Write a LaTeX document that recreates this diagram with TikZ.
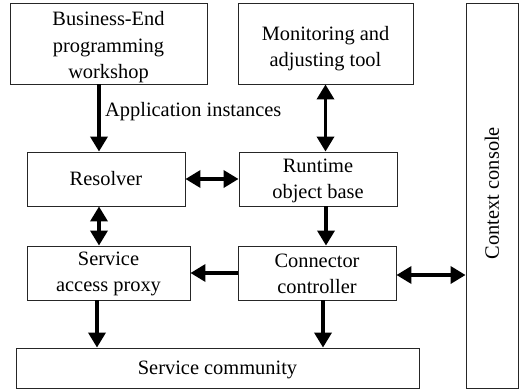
\documentclass[tikz,border=0pt]{standalone}
\usepackage{fontspec}
\setmainfont{Liberation Serif}
\usetikzlibrary{arrows.meta}
\begin{document}
\begin{tikzpicture}[x=1pt,y=-1pt,
  box/.style={draw=black!85, line width=0.9pt, inner sep=0pt},
  arr/.style={line width=3.5pt, -{Triangle[length=15pt,width=17pt]}},
  darr/.style={line width=3.5pt, {Triangle[length=15pt,width=17pt]}-{Triangle[length=15pt,width=17pt]}},
  lbl/.style={font=\fontsize{20.4}{26.5}\selectfont, inner sep=0pt, align=center}]
\useasboundingbox (0,0) rectangle (522,391);
\fill[white] (0,0) rectangle (522,391);
\node[box, minimum width=197pt, minimum height=81pt] (biz) at (108.5,43.5) {};
\node[lbl] (bizt) at ([yshift=-4pt]biz.center) {Business-End\\programming\\workshop};
\node[box, minimum width=175pt, minimum height=81pt] (mon) at (325.5,43.5) {};
\node[lbl] (mont) at ([yshift=-5pt]mon.center) {Monitoring and\\adjusting tool};
\node[box, minimum width=52pt, minimum height=385pt] (ctx) at (492,195.5) {};
\node[lbl, rotate=90] (ctxt) at (492,193) {Context console};
\node[box, minimum width=158pt, minimum height=54pt] (res) at (106,179) {};
\node[lbl] (rest) at (res.center) {Resolver};
\node[box, minimum width=158pt, minimum height=54pt] (rt) at (318,179) {};
\node[lbl] (rtt) at ([yshift=-2pt]rt.center) {Runtime\\object base};
\node[box, minimum width=163pt, minimum height=54pt] (sap) at (108.5,273) {};
\node[lbl] (sapt) at ([yshift=-1pt]sap.center) {Service\\access proxy};
\node[box, minimum width=158pt, minimum height=54pt] (cc) at (317,273) {};
\node[lbl] (cct) at ([yshift=-1pt]cc.center) {Connector\\controller};
\node[box, minimum width=403pt, minimum height=40pt] (sc) at (217.5,368) {};
\node[lbl] (sct) at ([yshift=-2pt]sc.center) {Service community};
\node[lbl, anchor=base west] (app) at (105,116) {Application instances};

\draw[arr] ([xshift=-9.5pt]biz.south) -- ([xshift=-9.5pt]biz.south |- res.north);
\draw[darr] (mon.south) -- (mon.south |- rt.north);
\draw[darr] (res.east) -- (rt.west);
\draw[darr] ([xshift=-7pt]res.south) -- ([xshift=-7pt]res.south |- sap.north);
\draw[arr] (cc.west) -- (sap.east);
\draw[arr] ([xshift=8pt]rt.south) -- ([xshift=8pt]rt.south |- cc.north);
\draw[darr] ([yshift=-2pt]cc.east) -- ([yshift=-2pt]cc.east -| ctx.west);
\draw[arr] ([xshift=-11.5pt]sap.south) -- ([xshift=-11.5pt]sap.south |- sc.north);
\draw[arr] ([xshift=6pt]cc.south) -- ([xshift=6pt]cc.south |- sc.north);
\end{tikzpicture}
\end{document}
